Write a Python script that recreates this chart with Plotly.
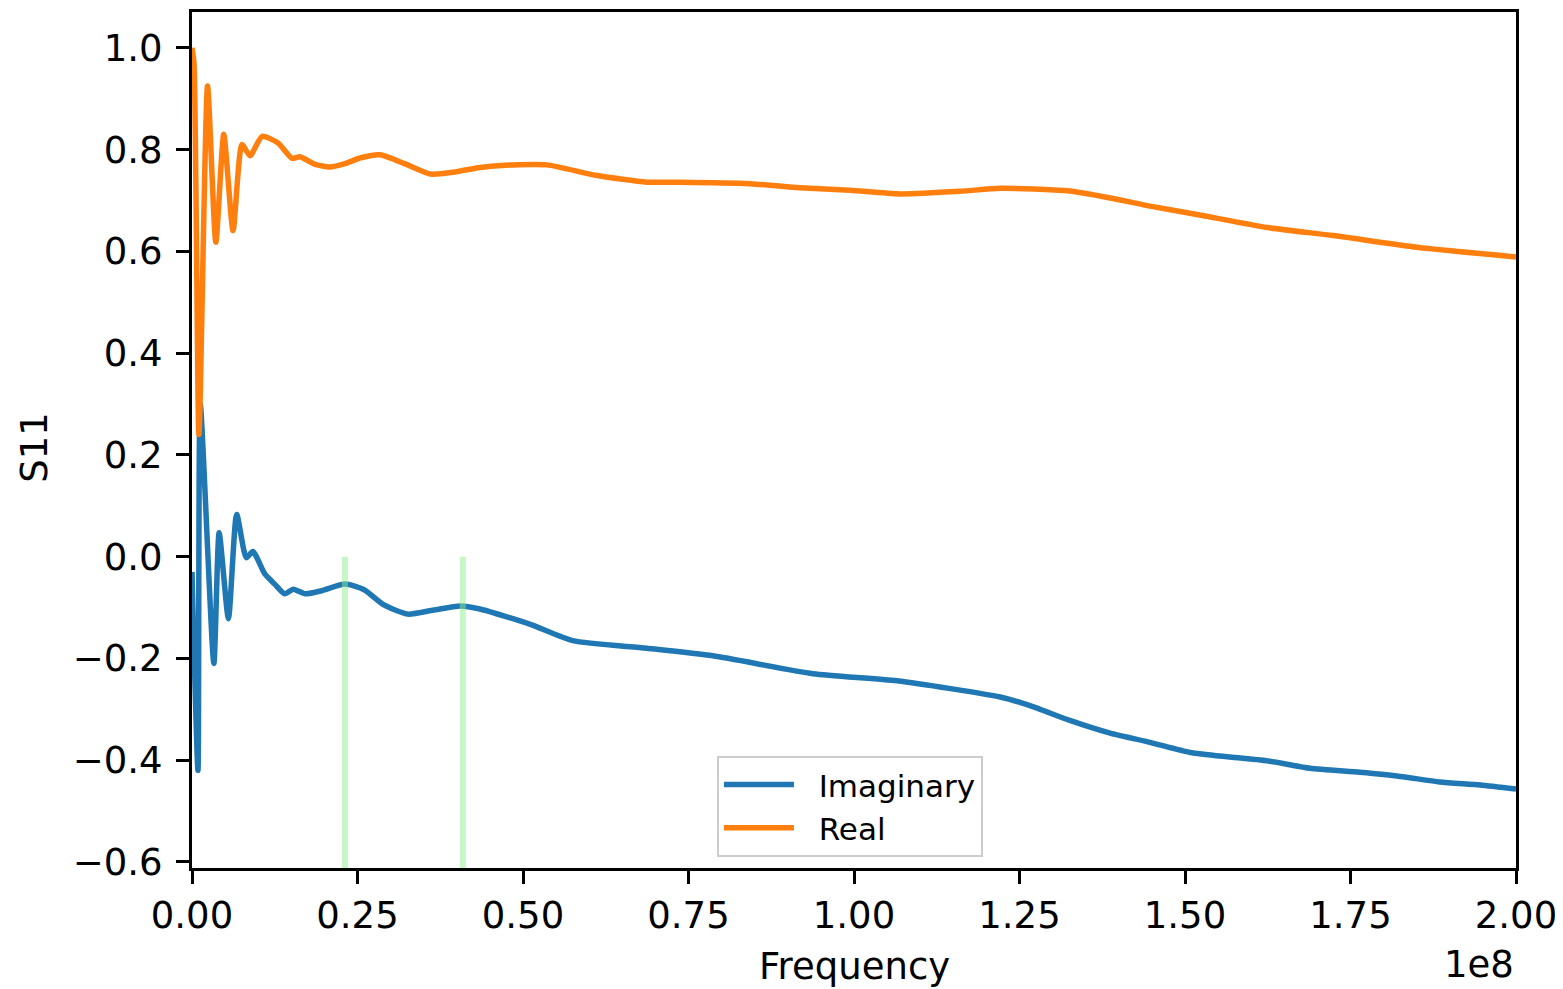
import numpy as np
import plotly.graph_objects as go

# Frequency values in units of 1e8 Hz
imag_f = [0.000, 0.009, 0.0125, 0.033, 0.041, 0.055, 0.0675, 0.082, 0.092, 0.110,
          0.125, 0.140, 0.153, 0.171, 0.196, 0.231, 0.260, 0.290, 0.326, 0.365,
          0.405, 0.435, 0.511, 0.575, 0.687, 0.787, 0.938, 1.065, 1.221, 1.266,
          1.326, 1.387, 1.447, 1.508, 1.568, 1.628, 1.689, 1.764, 1.825, 1.885,
          1.946, 2.000]
imag_v = [-0.03, -0.42, 0.30, -0.21, 0.047, -0.122, 0.083, -0.002, 0.010, -0.034,
          -0.054, -0.073, -0.064, -0.073, -0.067, -0.054, -0.065, -0.095, -0.113, -0.105,
          -0.097, -0.103, -0.133, -0.165, -0.180, -0.195, -0.230, -0.244, -0.276, -0.293,
          -0.322, -0.347, -0.365, -0.385, -0.394, -0.402, -0.416, -0.424, -0.432, -0.443,
          -0.449, -0.457]

real_f = [0.000, 0.003, 0.0105, 0.0235, 0.036, 0.048, 0.062, 0.0755, 0.0876, 0.106,
          0.130, 0.151, 0.163, 0.186, 0.208, 0.230, 0.255, 0.284, 0.322, 0.360,
          0.397, 0.435, 0.485, 0.536, 0.612, 0.687, 0.737, 0.843, 0.918, 0.994,
          1.069, 1.160, 1.221, 1.322, 1.387, 1.447, 1.520, 1.624, 1.724, 1.850,
          2.000]
real_v = [1.00, 0.97, 0.24, 0.925, 0.618, 0.83, 0.641, 0.81, 0.788, 0.826,
          0.813, 0.783, 0.786, 0.771, 0.766, 0.772, 0.784, 0.790, 0.772, 0.752,
          0.756, 0.765, 0.770, 0.770, 0.749, 0.736, 0.736, 0.733, 0.725, 0.720,
          0.713, 0.718, 0.724, 0.719, 0.705, 0.689, 0.672, 0.647, 0.631, 0.608,
          0.589]

marker_f = [0.231, 0.409]
marker_y = [0.0, -0.63]

x_ticks = [0.0, 0.25, 0.5, 0.75, 1.0, 1.25, 1.5, 1.75, 2.0]
x_ticktext = ["0.00", "0.25", "0.50", "0.75", "1.00", "1.25", "1.50", "1.75", "2.00"]
y_ticks = [-0.6, -0.4, -0.2, 0.0, 0.2, 0.4, 0.6, 0.8, 1.0]
y_ticktext = ["\u22120.6", "\u22120.4", "\u22120.2", "0.0", "0.2", "0.4", "0.6", "0.8", "1.0"]

SCALE = 1e8
FONT = "DejaVu Sans"
GAP = "\u00a0\u00a0"

fig = go.Figure()
fig.add_trace(go.Scatter(
    x=np.array(imag_f) * SCALE, y=imag_v, mode="lines", name=GAP + "Imaginary",
    line=dict(color="#1f77b4", width=5.5, shape="spline", smoothing=0.6)))
fig.add_trace(go.Scatter(
    x=np.array(real_f) * SCALE, y=real_v, mode="lines", name=GAP + "Real",
    line=dict(color="#ff7f0e", width=5.5, shape="spline", smoothing=0.6)))
for f in marker_f:
    fig.add_trace(go.Scatter(
        x=[f * SCALE, f * SCALE], y=marker_y, mode="lines", showlegend=False,
        hoverinfo="skip", line=dict(color="rgba(144,238,144,0.5)", width=6)))

axis_common = dict(
    showline=True, linecolor="black", linewidth=3, mirror=True,
    ticks="outside", ticklen=13, tickwidth=3, tickcolor="black",
    showgrid=False, zeroline=False,
    tickfont=dict(family=FONT, size=37, color="black"),
)

fig.update_layout(
    width=1555, height=981,
    margin=dict(l=184, r=47, t=1, b=121),
    paper_bgcolor="white", plot_bgcolor="white",
    font=dict(family=FONT, color="black"),
    xaxis=dict(range=[0, 2.0 * SCALE], tickvals=[t * SCALE for t in x_ticks],
               ticktext=x_ticktext, **axis_common),
    yaxis=dict(range=[-0.612, 1.0705], tickvals=y_ticks, ticktext=y_ticktext,
               ticklabelstandoff=6, **axis_common),
    legend=dict(x=0.3965, y=0.131, xanchor="left", yanchor="top",
                bgcolor="rgba(255,255,255,0.8)", bordercolor="#cccccc", borderwidth=2,
                font=dict(family=FONT, size=31, color="black"), itemwidth=70,
                tracegroupgap=0),
    showlegend=True,
    annotations=[
        dict(text="Frequency", xref="paper", yref="paper", x=0.5, y=-0.115,
             xanchor="center", yanchor="middle", showarrow=False,
             font=dict(family=FONT, size=37, color="black")),
        dict(text="S11", xref="paper", yref="paper", x=-0.1186, y=0.492,
             xanchor="center", yanchor="middle", showarrow=False, textangle=-90,
             font=dict(family=FONT, size=37, color="black")),
        dict(text="1e8", xref="paper", yref="paper", x=1.0, y=-0.113,
             xanchor="right", yanchor="middle", showarrow=False,
             font=dict(family=FONT, size=37, color="black")),
    ],
)

fig.write_html("out.html")
